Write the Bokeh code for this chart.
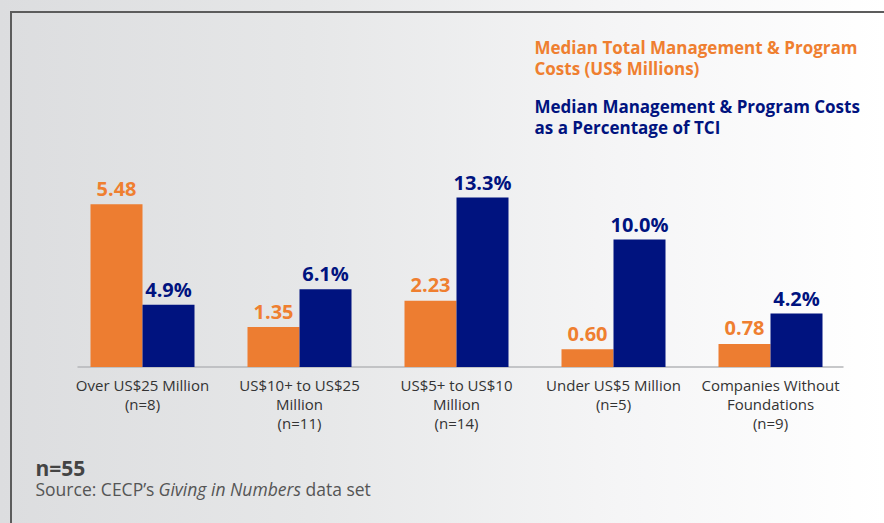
from bokeh.plotting import figure
from bokeh.models import Range1d, Label, ColumnDataSource
from bokeh.transform import dodge
from bokeh.core.properties import value
from bokeh.embed import file_html
from bokeh.resources import INLINE

# ---- data ----
categories = [
    "Over US$25 Million\n(n=8)",
    "US$10+ to US$25\nMillion\n(n=11)",
    "US$5+ to US$10\nMillion\n(n=14)",
    "Under US$5 Million\n(n=5)",
    "Companies Without\nFoundations\n(n=9)",
]
costs_musd = [5.48, 1.35, 2.23, 0.60, 0.78]
pct_of_tci = [4.9, 6.1, 13.3, 10.0, 4.2]

series_cost_name = ["Median Total Management & Program", "Costs (US$ Millions)"]
series_pct_name = ["Median Management & Program Costs", "as a Percentage of TCI"]
n_total = "n=55"

ORANGE = "#ed7d31"
ORANGE_TXT = "#ef7f30"
BLUE = "#00137f"
FONT_NAME = "Open Sans"
FONT = value(FONT_NAME)

W, H = 884, 523
xs = list(range(len(categories)))
src = ColumnDataSource(dict(
    x=xs,
    cat=categories,
    cost=costs_musd,
    pct=pct_of_tci,
    cost_lbl=[f"{v:.2f}" for v in costs_musd],
    pct_lbl=[f"{v:.1f}%" for v in pct_of_tci],
))

# layout in pixels
group_px = 157.0
first_center_px = 142.0
base_px_from_top = 366.6
cost_px = 29.7
pct_px = 12.75
bar_w = 52.0 / group_px
off = bar_w / 2

x0 = -first_center_px / group_px
p = figure(
    width=W, height=H, output_backend="svg", toolbar_location=None,
    x_range=Range1d(x0, x0 + W / group_px),
    y_range=Range1d(-(H - base_px_from_top) / cost_px, base_px_from_top / cost_px),
    min_border=0, min_border_left=0, min_border_right=0,
    min_border_top=0, min_border_bottom=0,
)
p.extra_y_ranges = {"pct": Range1d(-(H - base_px_from_top) / pct_px, base_px_from_top / pct_px)}
p.xaxis.visible = False
p.yaxis.visible = False
p.grid.visible = False
p.outline_line_color = None
p.background_fill_color = None
p.border_fill_color = None
p.styles = {
    "background": (
        "linear-gradient(#5c5c5c,#5c5c5c) 10px 11px / 100% 2px no-repeat, "
        "linear-gradient(#5c5c5c,#5c5c5c) 10px 11px / 2px 100% no-repeat, "
        "linear-gradient(to right, #dcdddf 0%, #e6e7e8 35%, #f5f5f6 70%, #ffffff 100%)"
    )
}

# baseline
p.segment(x0=xs[0] - 0.414, x1=xs[-1] + 0.465, y0=0, y1=0,
          line_color="#b5b6b8", line_width=1.5)

# bars
p.vbar(x=dodge("x", -off, range=p.x_range), top="cost", width=bar_w, bottom=0,
       source=src, fill_color=ORANGE, line_color=None)
p.vbar(x=dodge("x", off, range=p.x_range), top="pct", width=bar_w, bottom=0,
       source=src, fill_color=BLUE, line_color=None, y_range_name="pct")

# value labels
p.text(x=dodge("x", -off, range=p.x_range), y="cost", text="cost_lbl", source=src,
       text_align="center", text_baseline="alphabetic", y_offset=-15.5,
       text_font=FONT, text_font_style="bold", text_font_size="20px",
       text_color=ORANGE_TXT)
p.text(x=dodge("x", off, range=p.x_range), y="pct", text="pct_lbl", source=src,
       text_align="center", text_baseline="alphabetic", y_offset=-15.5,
       text_font=FONT, text_font_style="bold", text_font_size="20px",
       text_color=BLUE, y_range_name="pct")

# category labels
p.text(x="x", y=0, text="cat", source=src, text_align="center",
       text_baseline="top", y_offset=7.5, text_font=FONT, text_font_size="15px",
       text_color="#333333", text_line_height=0.96)

# legend-like texts
def add_label(txt, x, y_from_top, color, size, style="normal"):
    p.add_layout(Label(x=x, y=H - y_from_top, x_units="screen", y_units="screen",
                       text=txt, text_color=color, text_font=FONT_NAME,
                       text_font_size=size, text_font_style=style,
                       text_baseline="middle", text_align="left"))

add_label(series_cost_name[0], 534, 47, ORANGE_TXT, "17px", "bold")
add_label(series_cost_name[1], 534, 68, ORANGE_TXT, "17px", "bold")
add_label(series_pct_name[0], 534, 106, BLUE, "17px", "bold")
add_label(series_pct_name[1], 534, 127, BLUE, "17px", "bold")

add_label(n_total, 35, 467.5, "#444444", "21px", "bold")
add_label("Source: CECP\u2019s", 35, 488, "#555555", "17.5px")
add_label("Giving in Numbers", 158, 488, "#555555", "17.5px", "italic")
add_label("data set", 305, 488, "#555555", "17.5px")

open("out.html", "w").write(file_html(p, INLINE))
